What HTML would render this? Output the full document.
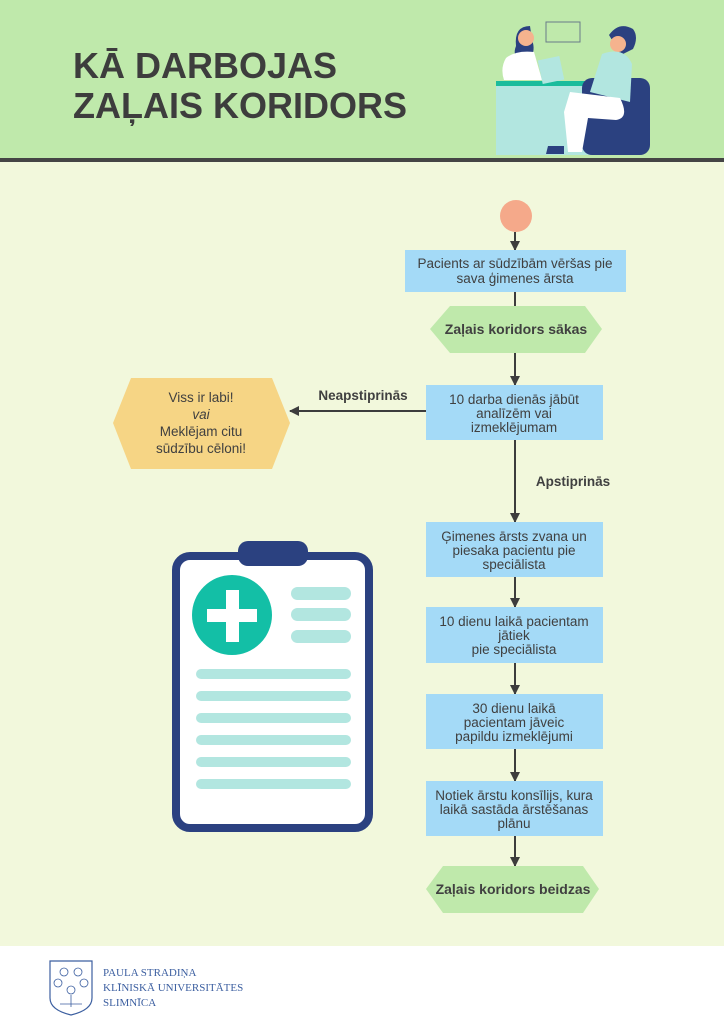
<!DOCTYPE html>
<html><head><meta charset="utf-8"><style>
body{margin:0;width:724px;height:1024px;overflow:hidden;background:#fff}
svg{display:block}
text{font-family:"Liberation Sans",sans-serif}
text.serif{font-family:"Liberation Serif",serif}
</style></head><body>
<svg width="724" height="1024" viewBox="0 0 724 1024" xmlns="http://www.w3.org/2000/svg">
<defs><marker id="ah" markerWidth="10" markerHeight="10" refX="9" refY="5" orient="auto" markerUnits="userSpaceOnUse"><path d="M0,0 L10,5 L0,10 Z" fill="#3d3d3d"/></marker></defs>
<rect x="0" y="0" width="724" height="158" fill="#bfe9ab"/>
<rect x="0" y="158" width="724" height="4" fill="#454545"/>
<rect x="0" y="162" width="724" height="784" fill="#f2f8dc"/>
<text x="73" y="78" font-size="36" font-weight="bold" fill="#3d3d3d" textLength="264" lengthAdjust="spacingAndGlyphs">KĀ DARBOJAS</text>
<text x="73" y="118" font-size="36" font-weight="bold" fill="#3d3d3d" textLength="334" lengthAdjust="spacingAndGlyphs">ZAĻAIS KORIDORS</text>
<!-- illustration -->
<rect x="496" y="83" width="110" height="72" fill="#b2e6e0"/>
<rect x="496" y="81" width="140" height="5" fill="#1abc9c"/>
<rect x="582" y="78" width="68" height="77" rx="10" fill="#2b4180"/>
<path d="M530 26 q-16 0 -14 20 q-4 10 4 14 l10 0 q6-10 2-20 z" fill="#2b4180"/>
<circle cx="526" cy="38" r="8" fill="#f5b38e"/>
<path d="M506 58 q10-8 28-6 l8 28 l-38 0 q-4-12 2-22z" fill="#fff"/>
<rect x="540" y="58" width="22" height="24" fill="#b2e6e0" transform="rotate(-12 551 70)"/>
<rect x="546" y="22" width="34" height="20" fill="none" stroke="#6a7a8a" stroke-width="1"/>
<path d="M609 35 q10-14 24-6 q6 8 0 20 l-12 6 z" fill="#2b4180"/>
<circle cx="618" cy="44" r="8" fill="#f5b38e"/>
<path d="M602 54 q22-8 30 10 l-2 38 l-40 -10 z" fill="#b2e6e0"/>
<path d="M570 92 l50 6 q10 20-4 22 l-28 -2 l-6 34 l-14 0 l-4-40 z" fill="#fff"/>
<path d="M548 146 l16 0 l0 8 l-18 0 z" fill="#2b4180"/>
<!-- flow -->
<circle cx="516" cy="216" r="16" fill="#f5a98a"/>
<g stroke="#3d3d3d" stroke-width="2" fill="none">
<line x1="515" y1="232" x2="515" y2="250" marker-end="url(#ah)"/>
<line x1="515" y1="292" x2="515" y2="306"/>
<line x1="515" y1="353" x2="515" y2="385" marker-end="url(#ah)"/>
<line x1="426" y1="411" x2="290" y2="411" marker-end="url(#ah)"/>
<line x1="515" y1="440" x2="515" y2="522" marker-end="url(#ah)"/>
<line x1="515" y1="577" x2="515" y2="607" marker-end="url(#ah)"/>
<line x1="515" y1="663" x2="515" y2="694" marker-end="url(#ah)"/>
<line x1="515" y1="749" x2="515" y2="781" marker-end="url(#ah)"/>
<line x1="515" y1="836" x2="515" y2="866" marker-end="url(#ah)"/>
</g>
<g fill="#a4daf7">
<rect x="405" y="250" width="221" height="42"/>
<rect x="426" y="385" width="177" height="55"/>
<rect x="426" y="522" width="177" height="55"/>
<rect x="426" y="607" width="177" height="56"/>
<rect x="426" y="694" width="177" height="55"/>
<rect x="426" y="781" width="177" height="55"/>
</g>
<polygon points="430,329 450,306 585,306 602,329 585,353 450,353" fill="#bfe9ab"/>
<polygon points="426,889 443,866 583,866 599,889 583,913 443,913" fill="#bfe9ab"/>
<polygon points="113,423 131,378 272,378 290,423 272,469 131,469" fill="#f6d585"/>
<g font-size="13.5" fill="#404040" text-anchor="middle">
<text x="515" y="268">Pacients ar sūdzībām vēršas pie</text>
<text x="515" y="283">sava ģimenes ārsta</text>
<text x="516" y="334" font-weight="bold" font-size="14">Zaļais koridors sākas</text>
<text x="514" y="404">10 darba dienās jābūt</text>
<text x="514" y="418">analīzēm vai</text>
<text x="514" y="432">izmeklējumam</text>
<text x="363" y="400" font-weight="bold" font-size="13.5">Neapstiprinās</text>
<text x="573" y="486" font-weight="bold" font-size="13.5">Apstiprinās</text>
<text x="201" y="402">Viss ir labi!</text>
<text x="201" y="419" font-style="italic">vai</text>
<text x="201" y="436">Meklējam citu</text>
<text x="201" y="453">sūdzību cēloni!</text>
<text x="514" y="541">Ģimenes ārsts zvana un</text>
<text x="514" y="555">piesaka pacientu pie</text>
<text x="514" y="569">speciālista</text>
<text x="514" y="626">10 dienu laikā pacientam</text>
<text x="514" y="640">jātiek</text>
<text x="514" y="654">pie speciālista</text>
<text x="514" y="713">30 dienu laikā</text>
<text x="514" y="727">pacientam jāveic</text>
<text x="514" y="741">papildu izmeklējumi</text>
<text x="514" y="800">Notiek ārstu konsīlijs, kura</text>
<text x="514" y="814">laikā sastāda ārstēšanas</text>
<text x="514" y="828">plānu</text>
<text x="513" y="894" font-weight="bold" font-size="14">Zaļais koridors beidzas</text>
</g>
<!-- clipboard -->
<rect x="176" y="556" width="193" height="272" rx="14" fill="#fff" stroke="#2b4180" stroke-width="8"/>
<rect x="238" y="541" width="70" height="25" rx="10" fill="#2b4180"/>
<circle cx="232" cy="615" r="40" fill="#13bfa6"/>
<rect x="207" y="609" width="50" height="13" fill="#fff"/>
<rect x="226" y="590" width="13" height="52" fill="#fff"/>
<g fill="#b2e6e0">
<rect x="291" y="587" width="60" height="13" rx="6.5"/>
<rect x="291" y="608" width="60" height="13" rx="6.5"/>
<rect x="291" y="630" width="60" height="13" rx="6.5"/>
<rect x="196" y="669" width="155" height="10" rx="5"/>
<rect x="196" y="691" width="155" height="10" rx="5"/>
<rect x="196" y="713" width="155" height="10" rx="5"/>
<rect x="196" y="735" width="155" height="10" rx="5"/>
<rect x="196" y="757" width="155" height="10" rx="5"/>
<rect x="196" y="779" width="155" height="10" rx="5"/>
</g>
<!-- footer logo -->
<path d="M50 961 L92 961 L92 998 Q92 1010 71 1015 Q50 1010 50 998 Z" fill="none" stroke="#3c5fa0" stroke-width="1.2"/>
<g stroke="#3c5fa0" fill="none" stroke-width="0.8">
<circle cx="64" cy="972" r="4"/><circle cx="78" cy="972" r="4"/><circle cx="58" cy="983" r="4"/><circle cx="84" cy="983" r="4"/><circle cx="71" cy="990" r="4"/>
<path d="M60 1004 l22 0 M71 995 l0 12"/>
</g>
<g font-size="11" fill="#3c5fa0">
<text class="serif" x="103" y="976">PAULA STRADIŅA</text>
<text class="serif" x="103" y="991">KLĪNISKĀ UNIVERSITĀTES</text>
<text class="serif" x="103" y="1006">SLIMNĪCA</text>
</g>
</svg>
</body></html>
